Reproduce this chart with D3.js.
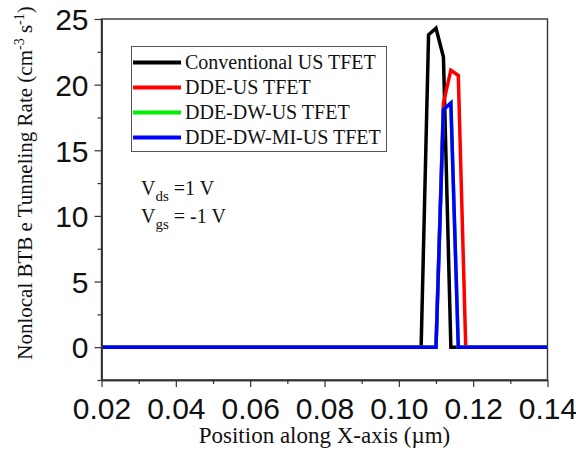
<!DOCTYPE html>
<html>
<head>
<meta charset="utf-8">
<script src="https://cdn.jsdelivr.net/npm/d3@7"></script>
<style>
  html, body { margin: 0; padding: 0; background: #fff; }
  svg { display: block; }
</style>
</head>
<body>
<svg id="chart" width="576" height="450"></svg>
<script>
// Position along the device (µm) shared by all series
const positions = [0.020, 0.106, 0.108, 0.110, 0.112, 0.114, 0.116, 0.118, 0.140];

// Nonlocal BTB electron tunneling rate for each device
const conventional = [0, 0, 23.8, 24.3, 22.1, 0, 0, 0, 0];
const ddeUs        = [0, 0, 0, 0, 18.6, 21.1, 20.7, 0, 0];
const ddeDwUs      = [0, 0, 0, 0, 18.1, 18.6, 0, 0, 0];
const ddeDwMiUs    = [0, 0, 0, 0, 18.1, 18.6, 0, 0, 0];

const seriesNames  = ["Conventional US TFET", "DDE-US TFET", "DDE-DW-US TFET", "DDE-DW-MI-US TFET"];
const seriesColors = ["#000000", "#ff0000", "#00ee00", "#0000ff"];

const xTicks = [0.02, 0.04, 0.06, 0.08, 0.10, 0.12, 0.14];
const xMinorTicks = [0.03, 0.05, 0.07, 0.09, 0.11, 0.13];
const yTicks = [0, 5, 10, 15, 20, 25];
const yMinorTicks = [-2.5, 2.5, 7.5, 12.5, 17.5, 22.5];

const series = [conventional, ddeUs, ddeDwUs, ddeDwMiUs].map((vals, i) => ({
  name: seriesNames[i],
  color: seriesColors[i],
  points: positions.map((p, j) => ({ x: p, y: vals[j] }))
}));

const svg = d3.select("#chart");
const plotL = 101.5, plotR = 547.5, plotT = 19, plotB = 380;

const x = d3.scaleLinear().domain([0.02, 0.14]).range([plotL, plotR]);
const y = d3.scaleLinear().domain([-2.5, 25]).range([plotB, plotT]);

const sans = "'Liberation Sans', Arial, sans-serif";
const serif = "'Liberation Serif', 'Times New Roman', serif";

// Frame
svg.append("rect")
  .attr("x", plotL).attr("y", plotT)
  .attr("width", plotR - plotL).attr("height", plotB - plotT)
  .attr("fill", "none").attr("stroke", "#333").attr("stroke-width", 1.4);

// Data lines
const line = d3.line().x(d => x(d.x)).y(d => y(d.y));
svg.append("g").selectAll("path")
  .data(series)
  .join("path")
  .attr("d", d => line(d.points))
  .attr("fill", "none")
  .attr("stroke", d => d.color)
  .attr("stroke-width", 3.5)
  .attr("stroke-linejoin", "miter");

// Axes
const xAxis = svg.append("g").attr("transform", `translate(0,${plotB})`)
  .call(d3.axisBottom(x).tickValues(xTicks).tickFormat(d3.format(".2f")).tickSize(7).tickSizeOuter(0).tickPadding(6));
const xMinor = svg.append("g").attr("transform", `translate(0,${plotB})`)
  .call(d3.axisBottom(x).tickValues(xMinorTicks).tickFormat("").tickSize(4).tickSizeOuter(0));
const yAxis = svg.append("g").attr("transform", `translate(${plotL},0)`)
  .call(d3.axisLeft(y).tickValues(yTicks).tickSize(7).tickSizeOuter(0).tickPadding(6));
const yMinor = svg.append("g").attr("transform", `translate(${plotL},0)`)
  .call(d3.axisLeft(y).tickValues(yMinorTicks).tickFormat("").tickSize(4).tickSizeOuter(0));

[xAxis, xMinor, yAxis, yMinor].forEach(g => {
  g.select(".domain").attr("stroke", "#333").attr("stroke-width", 1.4);
  g.selectAll(".tick line").attr("stroke", "#333").attr("stroke-width", 1.2);
  g.selectAll(".tick text").attr("font-family", sans).attr("font-size", 30).attr("fill", "#111");
});
xAxis.selectAll(".tick text").attr("dy", "0.85em");
yAxis.selectAll(".tick text").attr("dy", "0.36em");

// Axis titles
svg.append("text")
  .attr("x", (plotL + plotR) / 2).attr("y", 443)
  .attr("text-anchor", "middle")
  .attr("font-family", serif).attr("font-size", 23).attr("fill", "#111")
  .text("Position along X-axis (µm)");

const yTitle = svg.append("text")
  .attr("transform", `translate(32,${(12 + 354) / 2}) rotate(-90)`)
  .attr("text-anchor", "middle")
  .attr("font-family", serif).attr("font-size", 21).attr("fill", "#111");
yTitle.append("tspan").text("Nonlocal BTB e Tunneling Rate (cm");
yTitle.append("tspan").attr("font-size", 14).attr("dy", -8).text("-3");
yTitle.append("tspan").attr("dy", 8).text(" s");
yTitle.append("tspan").attr("font-size", 14).attr("dy", -8).text("-1");
yTitle.append("tspan").attr("dy", 8).text(")");

// Legend
const legend = svg.append("g");
legend.append("rect")
  .attr("x", 131.5).attr("y", 46.5).attr("width", 255).attr("height", 105)
  .attr("fill", "#fff").attr("stroke", "#555").attr("stroke-width", 1);
const rows = legend.selectAll("g.row").data(series).join("g")
  .attr("class", "row")
  .attr("transform", (d, i) => `translate(0,${62.5 + i * 25})`);
rows.append("line")
  .attr("x1", 133).attr("x2", 181).attr("y1", 0).attr("y2", 0)
  .attr("stroke", d => d.color).attr("stroke-width", 4);
rows.append("text")
  .attr("x", 185).attr("y", 6.5)
  .attr("font-family", serif).attr("font-size", 20).attr("fill", "#111")
  .text(d => d.name);

// Bias conditions
function biasLabel(yPos, sub, rest) {
  const t = svg.append("text").attr("x", 141).attr("y", yPos)
    .attr("font-family", serif).attr("font-size", 20).attr("fill", "#111");
  t.append("tspan").text("V");
  t.append("tspan").attr("font-size", 15).attr("dy", 6).text(sub);
  t.append("tspan").attr("dy", -6).text(rest);
}
biasLabel(195, "ds", " =1 V");
biasLabel(223, "gs", " = -1 V");
</script>
</body>
</html>
